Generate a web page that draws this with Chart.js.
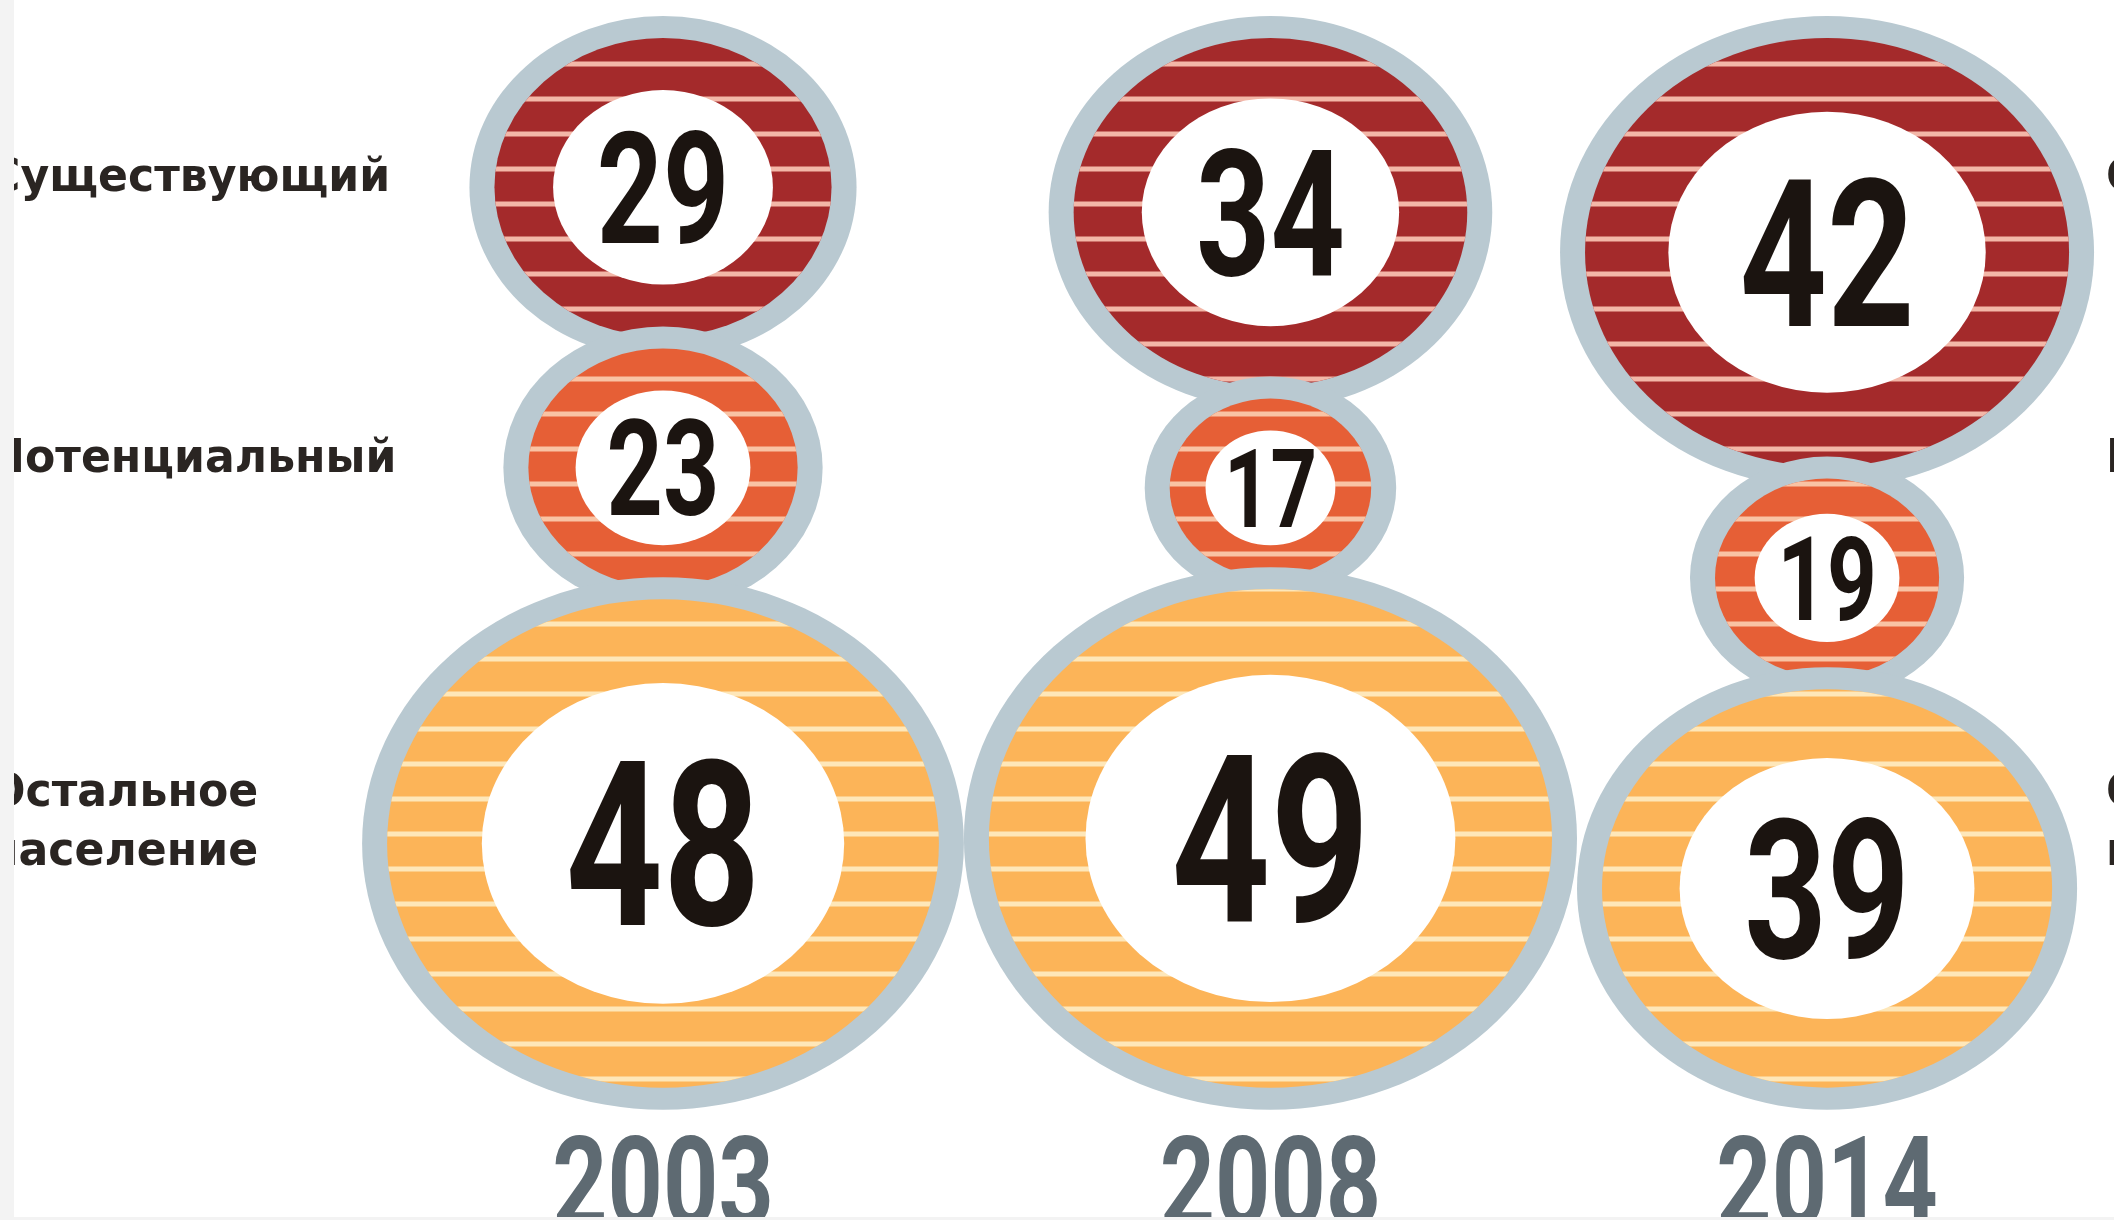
<!DOCTYPE html>
<html lang="ru">
<head>
<meta charset="utf-8">
<title>Структура рынка</title>
<script src="https://cdn.jsdelivr.net/npm/chart.js@4.4.1/dist/chart.umd.min.js"></script>
<style>
    html, body { margin: 0; padding: 0; overflow: hidden; background: #f3f3f3; }
    body { width: 2114px; height: 1220px; position: relative; }
    #bubbleChart { position: absolute; left: 14px; top: 0; background: #ffffff; }
</style>
</head>
<body>
<canvas id="bubbleChart" width="2100" height="1217"></canvas>
<script>
// Data
const years = ['2003', '2008', '2014'];
const groupLabels = [['Существующий'], ['Потенциальный'], ['Остальное', 'население']];
const existingValues = [29, 34, 42];
const potentialValues = [23, 17, 19];
const restValues = [48, 49, 39];

// Look
const RING_COLOR = '#b9c9d1';
const series = [
    { values: existingValues, fill: '#a42a2b', stripe: '#f3b7a8' },
    { values: potentialValues, fill: '#e65f36', stripe: '#f9c3a4' },
    { values: restValues, fill: '#fcb458', stripe: '#fee7b9' }
];

// Layout (page pixels)
const CANVAS_LEFT = 14;
const PAGE_W = 2114;
const PAGE_H = 1217;
const ASPECT = 1.13;      // circles are stretched sideways in the original
const RING_H = 25;
const RING_V = 22;
const OVERLAP = 32;
const TOP = 16;
const FIRST_X = 663;
const STRIPE_STEP = 35;
const STRIPE_PHASE = 29;

function outerRadius(v) { return 29.7 + 5.65 * v; }
function innerRadius(r) { return 0.664 * r - 18.6; }
function digitHeight(r) { return 0.487 * r + 16.7; }

// Column centres: bottom circles touch each other
const columnX = [FIRST_X];
for (let i = 1; i < years.length; i++) {
    columnX.push(columnX[i - 1] + outerRadius(restValues[i - 1]) + outerRadius(restValues[i]));
}

// Vertical stacking inside each column
const columnY = years.map((_, i) => {
    const ys = [];
    let prevBottom = null;
    series.forEach(s => {
        const rv = outerRadius(s.values[i]) / ASPECT;
        const cy = prevBottom === null ? TOP + rv : prevBottom - OVERLAP + rv;
        ys.push(cy);
        prevBottom = cy + rv;
    });
    return ys;
});

class BubbleStackController {
    constructor() {
        this.canvas = document.getElementById('bubbleChart');
        this.chart = null;
    }

    ellipse(ctx, x, y, rh, rv) {
        ctx.beginPath();
        ctx.ellipse(x, y, rh, rv, 0, 0, Math.PI * 2);
    }

    drawBubble(chart, x, y, r, s, value) {
        const ctx = chart.ctx;
        const yScale = chart.scales.y;
        const rv = r / ASPECT;

        ctx.save();
        ctx.fillStyle = RING_COLOR;
        this.ellipse(ctx, x, y, r, rv);
        ctx.fill();

        ctx.fillStyle = s.fill;
        this.ellipse(ctx, x, y, r - RING_H, rv - RING_V);
        ctx.fill();
        ctx.clip();

        ctx.fillStyle = s.stripe;
        for (let py = STRIPE_PHASE; py < PAGE_H; py += STRIPE_STEP) {
            const p = yScale.getPixelForValue(py);
            if (p < y - rv || p > y + rv) continue;
            ctx.fillRect(x - r, p - 2.5, 2 * r, 5);
        }
        ctx.restore();

        const wh = innerRadius(r);
        ctx.save();
        ctx.fillStyle = '#ffffff';
        this.ellipse(ctx, x, y, wh, wh / ASPECT);
        ctx.fill();

        const h = digitHeight(r);
        const fs = h / 0.711;
        ctx.translate(x, y + h / 2);
        ctx.scale(0.74, 1);
        ctx.font = `700 ${fs}px Roboto`;
        ctx.textAlign = 'center';
        ctx.textBaseline = 'alphabetic';
        ctx.fillStyle = '#1b1410';
        ctx.fillText(String(value), 0, 0);
        ctx.restore();
    }

    drawTexts(chart) {
        const ctx = chart.ctx;
        const xScale = chart.scales.x;
        const yScale = chart.scales.y;

        // years under the columns
        ctx.save();
        ctx.fillStyle = '#5e6a72';
        ctx.textAlign = 'center';
        ctx.font = '700 127px Roboto';
        years.forEach((yr, i) => {
            ctx.save();
            ctx.translate(xScale.getPixelForValue(columnX[i]), yScale.getPixelForValue(1226));
            ctx.scale(0.76, 1);
            ctx.fillText(yr, 0, 0);
            ctx.restore();
        });
        ctx.restore();

        // group labels, cut by both edges as in the original
        ctx.save();
        ctx.fillStyle = '#2a2522';
        ctx.textAlign = 'left';
        ctx.font = '700 46px "DejaVu Sans"';
        groupLabels.forEach((lines, k) => {
            const cy = columnY[0][k];
            const shift = lines.length > 1 ? -8 : 4;
            lines.forEach((line, j) => {
                const py = yScale.getPixelForValue(cy + shift + (j - (lines.length - 1) / 2) * 59);
                [-12, 2106].forEach(px => {
                    ctx.save();
                    ctx.translate(xScale.getPixelForValue(px), py);
                    ctx.scale(0.96, 1);
                    ctx.fillText(line, 0, 0);
                    ctx.restore();
                });
            });
        });
        ctx.restore();
    }

    initChart() {
        const self = this;
        const artPlugin = {
            id: 'bubbleArt',
            afterDatasetsDraw(chart) {
                chart.data.datasets.forEach((ds, k) => {
                    const meta = chart.getDatasetMeta(k);
                    meta.data.forEach((el, i) => {
                        self.drawBubble(chart, el.x, el.y, ds.data[i].r, series[k], series[k].values[i]);
                    });
                });
                self.drawTexts(chart);
            }
        };

        this.chart = new Chart(this.canvas.getContext('2d'), {
            type: 'bubble',
            data: {
                datasets: series.map((s, k) => ({
                    label: groupLabels[k].join(' '),
                    data: s.values.map((v, i) => ({ x: columnX[i], y: columnY[i][k], r: outerRadius(v) })),
                    backgroundColor: 'rgba(0,0,0,0)',
                    borderWidth: 0,
                    hoverRadius: 0
                }))
            },
            options: {
                responsive: false,
                animation: false,
                events: [],
                layout: { padding: 0, autoPadding: false },
                plugins: { legend: { display: false }, tooltip: { enabled: false } },
                scales: {
                    x: { type: 'linear', min: CANVAS_LEFT, max: PAGE_W, display: false },
                    y: { type: 'linear', min: 0, max: PAGE_H, reverse: true, display: false }
                }
            },
            plugins: [artPlugin]
        });
    }
}

const bubbleStackController = new BubbleStackController();
bubbleStackController.initChart();
</script>
</body>
</html>
